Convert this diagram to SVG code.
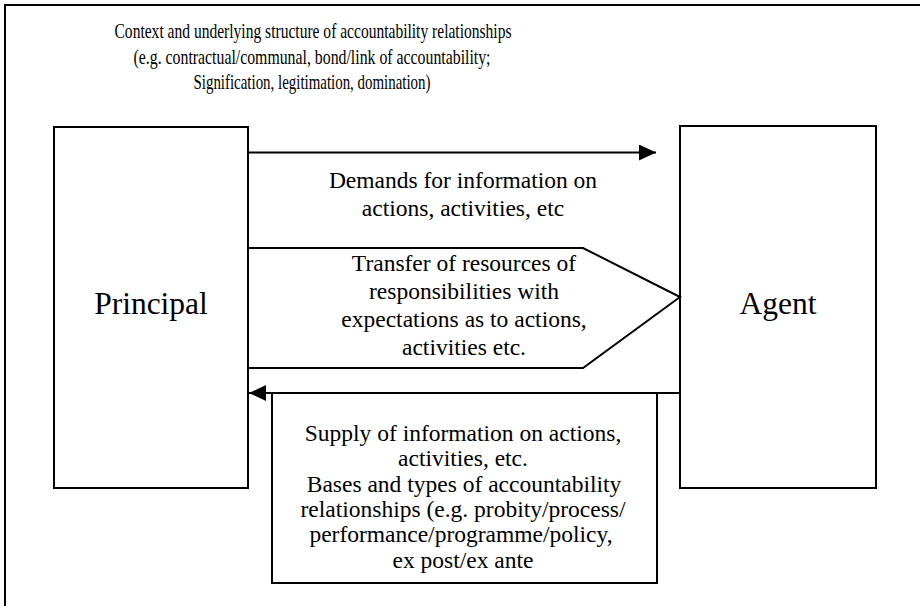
<svg xmlns="http://www.w3.org/2000/svg" width="920" height="606" viewBox="0 0 920 606">
<style>
.box{fill:#fff;stroke:#000;stroke-width:2}
.ln{fill:none;stroke:#000;stroke-width:2}
text{font-family:"Liberation Serif","Times New Roman",serif;fill:#000;text-anchor:middle}
.t{font-size:23.5px}
.big{font-size:31.5px}
.top{font-size:22px}
</style>
<defs>
<marker id="ah" markerWidth="17" markerHeight="16" refX="17" refY="8" orient="auto" markerUnits="userSpaceOnUse">
<path d="M0,0 L17,8 L0,16 Z" fill="#000"/>
</marker>
</defs>
<g id="frame">
<path class="ln" d="M5,606 L5,5 L920,5"/>
</g>
<g id="context">
<text class="top" x="313" y="38" textLength="397" lengthAdjust="spacingAndGlyphs">Context and underlying structure of accountability relationships</text>
<text class="top" x="312" y="64" textLength="357" lengthAdjust="spacingAndGlyphs">(e.g. contractual/communal, bond/link of accountability;</text>
<text class="top" x="312" y="89" textLength="237" lengthAdjust="spacingAndGlyphs">Signification, legitimation, domination)</text>
</g>
<g id="principal">
<rect class="box" x="54" y="127" width="194" height="361"/>
<text class="big" x="151" y="314">Principal</text>
</g>
<g id="agent">
<rect class="box" x="680" y="126" width="196" height="362"/>
<text class="big" x="778" y="314">Agent</text>
</g>
<g id="transfer">
<path class="box" d="M248,248 L583,248 L680,297 L583,368 L248,368 Z"/>
<text class="t" x="464" y="271">Transfer of resources of</text>
<text class="t" x="464" y="299">responsibilities with</text>
<text class="t" x="464" y="327">expectations as to actions,</text>
<text class="t" x="464" y="355">activities etc.</text>
</g>
<g id="supply">
<rect class="box" x="272" y="393" width="385" height="190"/>
<text class="t" x="463" y="441">Supply of information on actions,</text>
<text class="t" x="463" y="466">activities, etc.</text>
<text class="t" x="464" y="492">Bases and types of accountability</text>
<text class="t" x="463" y="517">relationships (e.g. probity/process/</text>
<text class="t" x="461" y="542">performance/programme/policy,</text>
<text class="t" x="463" y="568">ex post/ex ante</text>
</g>
<g id="connectors">
<line class="ln" x1="248" y1="152.5" x2="656" y2="152.5" marker-end="url(#ah)"/>
<line class="ln" x1="680" y1="393" x2="249" y2="393" marker-end="url(#ah)"/>
</g>
<g id="demands">
<text class="t" x="463" y="188">Demands for information on</text>
<text class="t" x="463" y="216">actions, activities, etc</text>
</g>
</svg>
